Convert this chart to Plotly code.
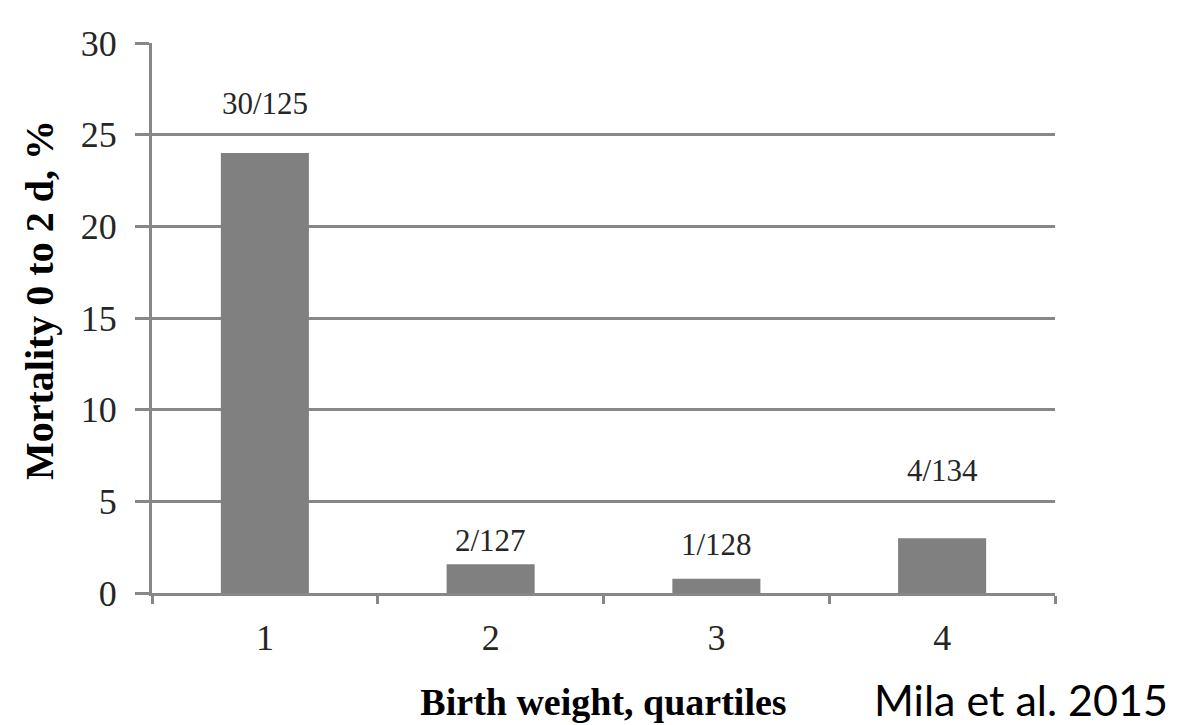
import plotly.graph_objects as go

quartiles = [1, 2, 3, 4]
tick_labels = ["1", "2", "3", "4"]
mortality_pct = [24.0, 1.575, 0.78, 2.985]
count_labels = ["30/125", "2/127", "1/128", "4/134"]
label_shift_px = [50, 24, 34, 68]

GRID = "#878787"
BAR = "#808080"
TXT = "#262626"
SERIF = "Liberation Serif, Times New Roman, serif"

fig = go.Figure()
fig.add_trace(go.Bar(x=quartiles, y=mortality_pct, marker=dict(color=BAR, line=dict(width=0)),
                     width=0.39, hoverinfo="skip"))

for q, v, t, s in zip(quartiles, mortality_pct, count_labels, label_shift_px):
    fig.add_annotation(x=q, y=v, xref="x", yref="y", text=t, showarrow=False,
                       yshift=s, yanchor="middle",
                       font=dict(family=SERIF, size=31, color=TXT))

# y-axis title
fig.add_annotation(x=0, xref="paper", xanchor="center", xshift=-113,
                   y=0.5, yref="paper", yanchor="middle", yshift=18,
                   text="<b>Mortality 0 to 2 d, %</b>", textangle=-90, showarrow=False,
                   font=dict(family=SERIF, size=40, color="#000000"))

fig.add_annotation(x=1.0, xref="paper", xanchor="right", xshift=115,
                   y=0, yref="paper", yanchor="middle", yshift=-106,
                   text="Mila et al. 2015", showarrow=False,
                   font=dict(family="Lato, sans-serif", size=43, color="#000000"))

fig.update_layout(
    width=1183, height=725,
    margin=dict(l=144, r=136, t=35, b=140),
    paper_bgcolor="white", plot_bgcolor="white",
    showlegend=False,
    xaxis=dict(range=[0.5, 4.5], tickmode="array", tickvals=quartiles, ticktext=tick_labels,
               ticks="", showline=True, linecolor=GRID, linewidth=3,
               showgrid=False, zeroline=False, automargin=False, ticklabelstandoff=11,
               minor=dict(tickmode="array", tickvals=[0.5, 1.5, 2.5, 3.5, 4.5],
                          ticks="outside", ticklen=8, tickwidth=3, tickcolor=GRID, showgrid=False),
               tickfont=dict(family=SERIF, size=36, color=TXT),
               title=dict(text="<b>Birth weight, quartiles</b>", standoff=32,
                          font=dict(family=SERIF, size=38, color="#000000"))),
    yaxis=dict(range=[0, 30], dtick=5, tick0=0, ticks="outside", ticklen=14,
               tickwidth=3, tickcolor=GRID, showline=True, linecolor=GRID, linewidth=3,
               showgrid=True, gridcolor=GRID, gridwidth=3, zeroline=False,
               automargin=False, ticklabelstandoff=11,
               tickfont=dict(family=SERIF, size=36, color=TXT)),
)

fig.write_html("out.html")
